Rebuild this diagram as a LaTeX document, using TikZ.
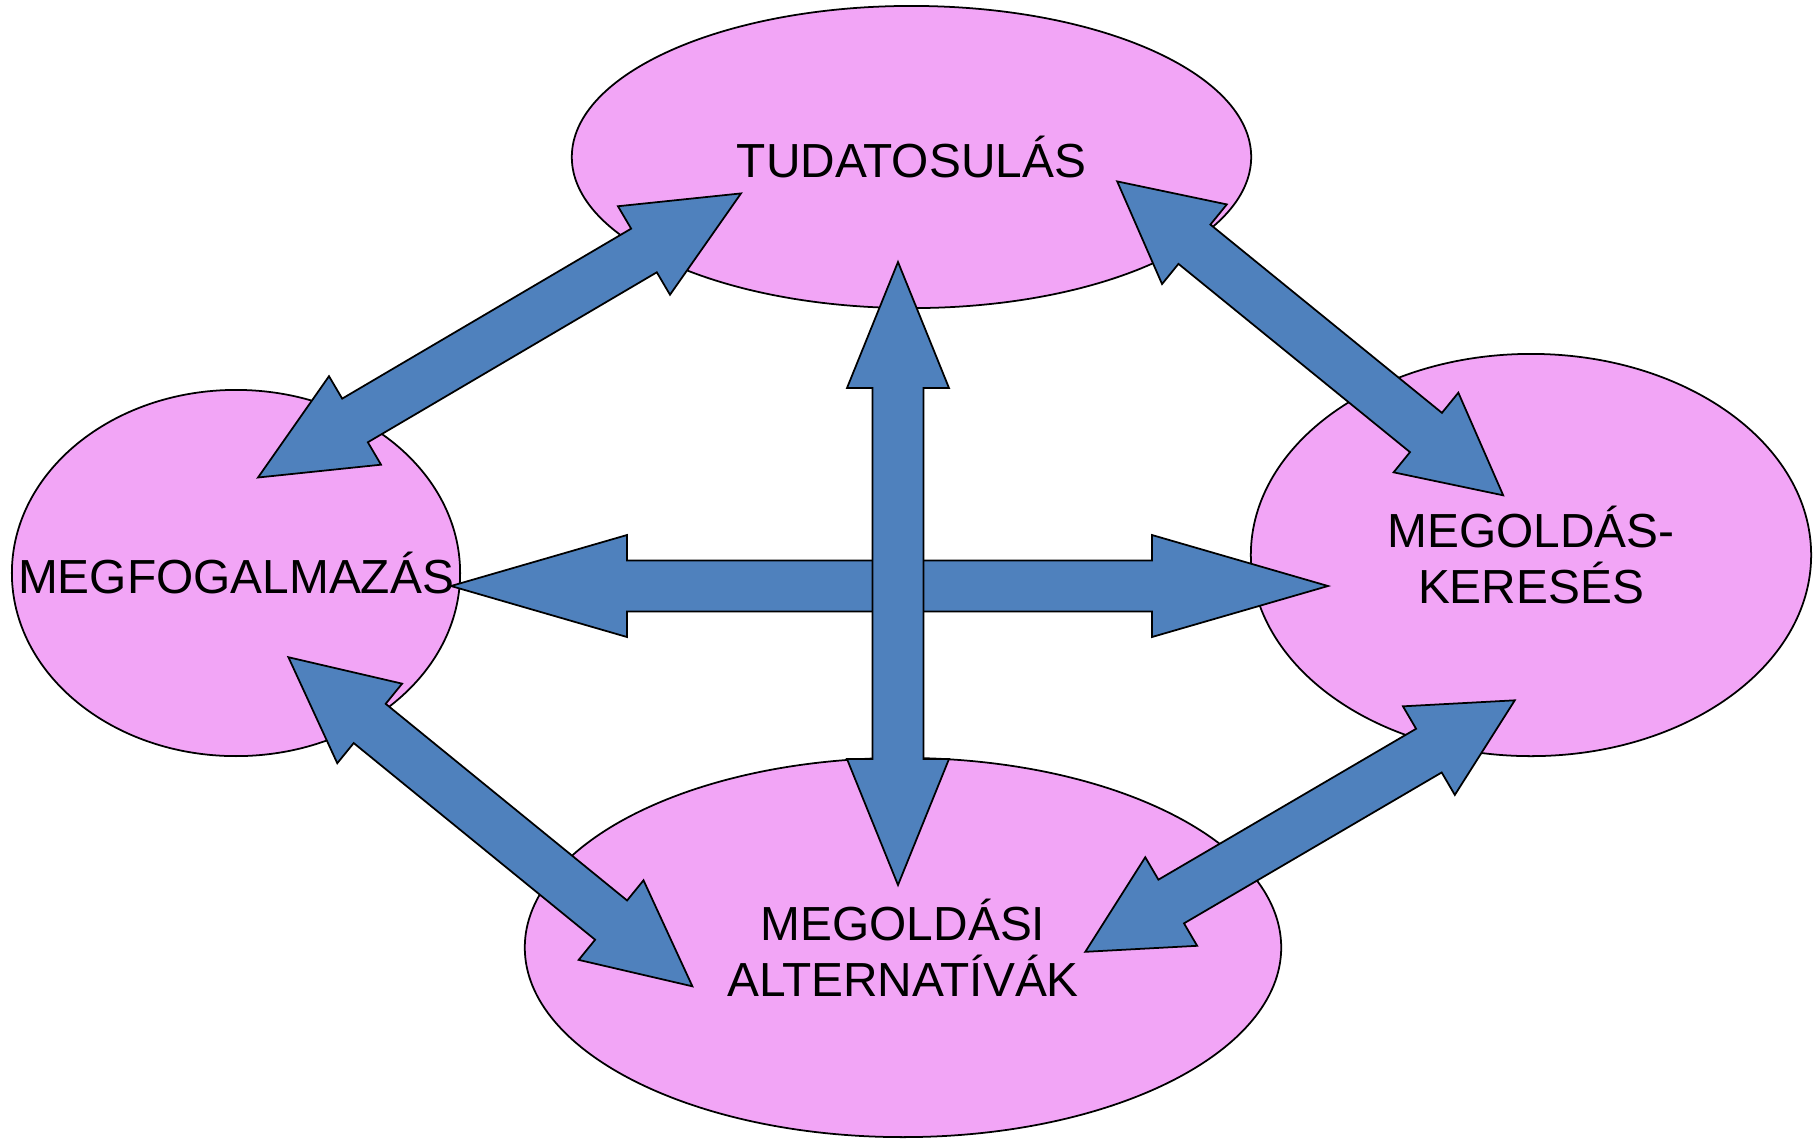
\documentclass[tikz,border=0pt]{standalone}
\usepackage{fontspec}
\setmainfont{Liberation Sans}
\usetikzlibrary{shapes.geometric,calc}
\definecolor{pinkfill}{HTML}{F2A5F6}
\definecolor{arrowblue}{HTML}{4F81BD}
\tikzset{
 bubble/.style={ellipse, draw=black, line width=0.5pt, fill=pinkfill, inner sep=0pt, outer sep=0pt},
 lbl/.style={font=\fontsize{13.6}{16.0}\selectfont, align=center, inner sep=0pt, text=black},
 blockarrow/.style={draw=black, line width=0.5pt, fill=arrowblue, line join=miter},
}
% tipA, tipB, head length, head half width, shaft half width
\newcommand\dblarrow[5]{%
 \path ($(#1)!#3!(#2)$) coordinate (ba) ($(#2)!#3!(#1)$) coordinate (bb);
 \draw[blockarrow] (#1) -- ($(ba)!#4!90:(#1)$) -- ($(ba)!#5!90:(#1)$)
   -- ($(bb)!#5!-90:(#2)$) -- ($(bb)!#4!-90:(#2)$) -- (#2)
   -- ($(bb)!#4!90:(#2)$) -- ($(bb)!#5!90:(#2)$)
   -- ($(ba)!#5!-90:(#1)$) -- ($(ba)!#4!-90:(#1)$) -- cycle;}
\begin{document}
\begin{tikzpicture}[x=0.01cm, y=-0.01cm]
\useasboundingbox (0,0) rectangle (1820,1138);
% ellipses
\node[bubble, minimum width=6.79cm, minimum height=3.02cm] (top) at (911.5,157) {};
\node[bubble, minimum width=4.48cm, minimum height=3.66cm] (left) at (236,573) {};
\node[bubble, minimum width=5.60cm, minimum height=4.02cm] (right) at (1531,555) {};
\node[bubble, minimum width=7.56cm, minimum height=3.79cm] (bottom) at (903,947.5) {};
% labels
\node[lbl] (ttop) at (top.center) {TUDATOSULÁS};
\node[lbl] (tleft) at (left.center) {MEGFOGALMAZÁS};
\node[lbl] (tright) at (right.center) {MEGOLDÁS-\\KERESÉS};
\node[lbl] (tbottom) at (bottom.center) {MEGOLDÁSI\\ALTERNATÍVÁK};
% arrow tips
\coordinate (hL) at (451,586);
\coordinate (hR) at (1328,586);
\coordinate (vT) at (898,262);
\coordinate (vB) at (898,885);
\coordinate (tlA) at (258,477.5);
\coordinate (tlB) at (741,193.4);
\coordinate (trA) at (1117.2,181.4);
\coordinate (trB) at (1503.2,495.3);
\coordinate (blA) at (288.4,657.2);
\coordinate (blB) at (692.4,986.3);
\coordinate (brA) at (1085.3,951.8);
\coordinate (brB) at (1514.8,700.3);
% arrows
\dblarrow{tlA}{tlB}{11.25mm}{5.13mm}{2.53mm}
\dblarrow{trA}{trB}{9.95mm}{5.13mm}{2.53mm}
\dblarrow{blA}{blB}{10.48mm}{5.13mm}{2.53mm}
\dblarrow{brA}{brB}{9.95mm}{5.13mm}{2.53mm}
\dblarrow{hL}{hR}{17.6mm}{5.1mm}{2.55mm}
\dblarrow{vT}{vB}{12.6mm}{5.1mm}{2.55mm}
\end{tikzpicture}
\end{document}
